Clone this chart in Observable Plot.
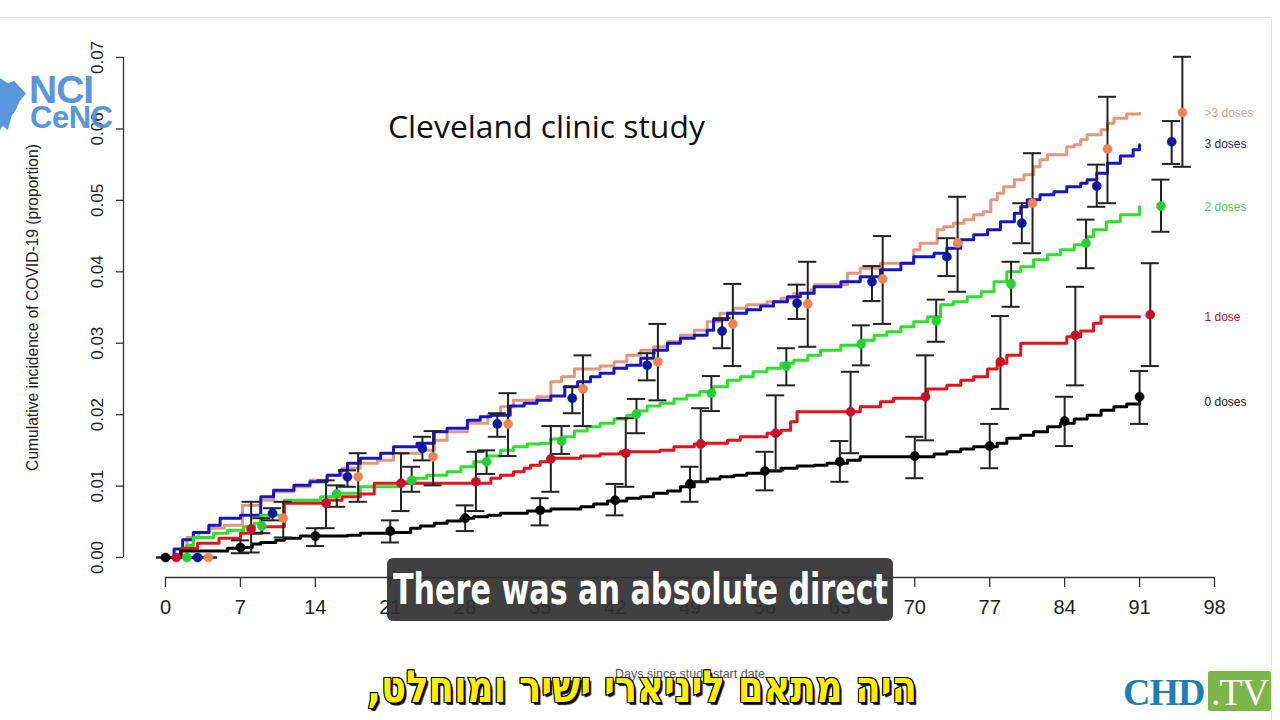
<!DOCTYPE html>
<html>
<head>
<meta charset="utf-8">
<script src="https://cdn.jsdelivr.net/npm/d3@7"></script>
<script src="https://cdn.jsdelivr.net/npm/@observablehq/plot@0.6"></script>
<style>
html, body { margin: 0; padding: 0; background: #fff; }
#wrap { position: relative; width: 1280px; height: 720px; overflow: hidden; background: #fff; font-family: "Liberation Sans", Arial, sans-serif; }
#chart { position: absolute; left: 0; top: 0; }
#frameline { position: absolute; left: 0; top: 17px; width: 1272px; height: 720px; border-top: 1px solid #e6e6e6; border-right: 1px solid #e6e6e6; box-sizing: border-box; pointer-events: none; }
#title { position: absolute; left: 388px; top: 104px; font-family: "Open Sans", sans-serif; font-size: 28px; color: #111; white-space: nowrap; }
#sub { position: absolute; left: 387px; top: 558px; width: 506px; height: 63px; background: rgba(48,48,48,0.92); border-radius: 6px; }
#subtext { position: absolute; left: 393px; top: 562px; font-family: "Liberation Sans Narrow", "DejaVu Sans Condensed", "Liberation Sans", sans-serif; font-weight: bold; font-size: 42px; color: #fff; white-space: nowrap; transform-origin: 0 0; line-height: 56px; }
#heb { position: absolute; left: 367px; top: 660px; font-family: "DejaVu Sans", "Liberation Sans", sans-serif; font-weight: bold; font-size: 44px; color: #ffee00; white-space: nowrap; transform-origin: 0 0; line-height: 54px;
  -webkit-text-stroke: 2px #000; paint-order: stroke fill; text-shadow: 2px 2px 0 #000, -1px -1px 0 #000, 1px -1px 0 #000, -1px 1px 0 #000, 3px 3px 1px #222; }
#logo { position: absolute; left: 0; top: 72px; width: 160px; height: 62px; opacity: 0.92; }
#logo .shape { position: absolute; left: 0; top: 6px; width: 26px; height: 52px; background: #4a8fdc;
  clip-path: polygon(0% 0%, 30% 10%, 55% 6%, 100% 30%, 75% 45%, 60% 62%, 45% 72%, 30% 100%, 10% 92%, 0% 100%); }
#logo .nci { position: absolute; left: 29px; top: -4px; font-family: "Liberation Sans", sans-serif; font-weight: bold; font-size: 39px; color: #4a8fdc; letter-spacing: -1px; }
#logo .cenc { position: absolute; left: 30px; top: 28px; font-family: "Liberation Sans", sans-serif; font-weight: bold; font-size: 31px; color: #4a8fdc; letter-spacing: -0.5px; }
#chd { position: absolute; left: 1123px; top: 670px; font-family: "Liberation Serif", "DejaVu Serif", serif; font-weight: bold; font-size: 38px; color: #1f7fb4; letter-spacing: -1px; line-height: 44px; }
#tv { position: absolute; left: 1208px; top: 671px; width: 63px; height: 40px; background: #7ab648; border-radius: 2px; color: #fff; font-family: "Liberation Serif", "DejaVu Serif", serif; font-size: 38px; line-height: 42px; text-align: center; letter-spacing: -1px; }
</style>
</head>
<body>
<div id="wrap">
  <div id="chart"></div>
  <div id="frameline"></div>
  <div id="title">Cleveland clinic study</div>
  <div id="logo"><div class="shape"></div><div class="nci">NCI</div><div class="cenc">CeNC</div></div>
  <div id="sub"></div>
  <div id="subtext">There was an absolute direct</div>
  <div id="heb" dir="rtl">היה מתאם ליניארי ישיר ומוחלט,</div>
  <div id="chd">CHD</div>
  <div id="tv">.TV</div>
</div>
<script>
// ---------- data ----------
const dayTicks = [0, 7, 14, 21, 28, 35, 42, 49, 56, 63, 70, 77, 84, 91, 98];
const yTicks = [0, 0.01, 0.02, 0.03, 0.04, 0.05, 0.06, 0.07];
const weekDays = [0, 7, 14, 21, 28, 35, 42, 49, 56, 63, 70, 77, 84, 91];
const groups = ["0 doses", "1 dose", "2 doses", "3 doses", ">3 doses"];
const yTitle = "Cumulative incidence of COVID-19 (proportion)";
const xTitle = "Days since study start date";

// weekly point estimates with 95% CI (proportion)
const mean0 = [0, 0.0014, 0.0030, 0.0037, 0.0055, 0.0066, 0.0080, 0.0103, 0.0121, 0.0134, 0.0142, 0.0156, 0.0191, 0.0225];
const lo0   = [0, 0.0006, 0.0016, 0.0021, 0.0037, 0.0045, 0.0059, 0.0078, 0.0094, 0.0106, 0.0111, 0.0125, 0.0156, 0.0187];
const hi0   = [0, 0.0024, 0.0041, 0.0052, 0.0073, 0.0083, 0.0103, 0.0127, 0.0148, 0.0163, 0.0169, 0.0187, 0.0225, 0.0261];

const mean1 = [0, 0.0040, 0.0076, 0.0104, 0.0106, 0.0138, 0.0146, 0.0159, 0.0174, 0.0204, 0.0225, 0.0274, 0.0311, 0.0340];
const lo1   = [0, 0.0007, 0.0041, 0.0065, 0.0065, 0.0092, 0.0099, 0.0106, 0.0122, 0.0146, 0.0164, 0.0208, 0.0241, 0.0268];
const hi1   = [0, 0.0078, 0.0108, 0.0146, 0.0148, 0.0184, 0.0195, 0.0209, 0.0227, 0.0260, 0.0283, 0.0338, 0.0379, 0.0412];

const mean2 = [0, 0.0044, 0.0089, 0.0108, 0.0134, 0.0163, 0.0201, 0.0230, 0.0268, 0.0299, 0.0331, 0.0383, 0.0440, 0.0492];
const lo2   = [0, 0.0034, 0.0071, 0.0092, 0.0117, 0.0145, 0.0174, 0.0205, 0.0241, 0.0269, 0.0302, 0.0351, 0.0405, 0.0456];
const hi2   = [0, 0.0055, 0.0101, 0.0127, 0.0150, 0.0184, 0.0222, 0.0254, 0.0293, 0.0325, 0.0361, 0.0414, 0.0473, 0.0529];

const mean3 = [0, 0.0062, 0.0113, 0.0153, 0.0187, 0.0223, 0.0269, 0.0317, 0.0356, 0.0386, 0.0421, 0.0468, 0.0520, 0.0582];
const lo3   = [0, 0.0052, 0.0099, 0.0136, 0.0169, 0.0202, 0.0248, 0.0293, 0.0334, 0.0359, 0.0394, 0.0440, 0.0491, 0.0551];
const hi3   = [0, 0.0069, 0.0122, 0.0169, 0.0202, 0.0239, 0.0286, 0.0335, 0.0382, 0.0408, 0.0447, 0.0496, 0.0550, 0.0611];

const mean4 = [0, 0.0055, 0.0113, 0.0141, 0.0187, 0.0236, 0.0274, 0.0327, 0.0355, 0.0390, 0.0440, 0.0496, 0.0572, 0.0623];
const lo4   = [0, 0.0028, 0.0078, 0.0101, 0.0142, 0.0184, 0.0220, 0.0268, 0.0295, 0.0327, 0.0372, 0.0426, 0.0496, 0.0547];
const hi4   = [0, 0.0078, 0.0146, 0.0177, 0.0230, 0.0283, 0.0327, 0.0383, 0.0414, 0.0450, 0.0505, 0.0566, 0.0645, 0.0701];

// cumulative incidence step curves: [day, proportion]
const steps0 = [[0,0],[1.4,0.0009],[5.8,0.0013],[7.0,0.0014],[8.1,0.0019],[8.9,0.0021],[10.3,0.0024],[11.1,0.0027],[12.6,0.0030],[17.0,0.0031],[18.2,0.0034],[21.3,0.0035],[22.9,0.0041],[23.8,0.0044],[25.1,0.0048],[26.3,0.0051],[27.6,0.0055],[28.8,0.0057],[30.1,0.0059],[31.3,0.0062],[33.8,0.0065],[36.0,0.0068],[38.8,0.0071],[40.0,0.0075],[41.3,0.0079],[43.1,0.0083],[44.4,0.0085],[45.6,0.0090],[46.9,0.0093],[48.1,0.0099],[49.4,0.0106],[50.6,0.0110],[51.8,0.0113],[53.1,0.0115],[54.3,0.0118],[55.9,0.0121],[57.5,0.0125],[59.0,0.0128],[60.6,0.0129],[61.8,0.0132],[63.7,0.0136],[64.9,0.0141],[71.8,0.0145],[73.0,0.0148],[74.3,0.0152],[75.5,0.0155],[77.7,0.0160],[78.6,0.0167],[79.9,0.0171],[81.1,0.0176],[82.4,0.0183],[83.6,0.0188],[84.9,0.0194],[86.1,0.0199],[87.4,0.0206],[88.6,0.0211],[89.8,0.0215],[91,0.0218]];
const steps1 = [[0,0],[1.0,0],[1.5,0.0013],[3,0.0020],[5,0.0027],[7,0.0034],[9,0.0043],[11.1,0.0076],[14.8,0.0080],[16.5,0.0085],[18.2,0.0089],[19.5,0.0104],[30.4,0.0111],[31.3,0.0115],[32.5,0.0120],[33.5,0.0125],[34.1,0.0129],[35.0,0.0134],[36.0,0.0139],[38.8,0.0142],[40.6,0.0145],[42.5,0.0148],[46.2,0.0150],[47.5,0.0155],[49.4,0.0159],[50.5,0.0160],[52.5,0.0164],[53.7,0.0169],[56.2,0.0174],[57.5,0.0178],[58.4,0.0190],[59.0,0.0204],[64.9,0.0211],[66.8,0.0218],[68.0,0.0223],[71.2,0.0236],[73.0,0.0241],[74.3,0.0248],[75.5,0.0253],[76.8,0.0264],[77.7,0.0272],[78.6,0.0283],[79.9,0.0300],[84.2,0.0309],[85.5,0.0317],[86.7,0.0328],[87.4,0.0337],[91,0.0337]];
const steps2 = [[0,0],[2.0,0.0017],[2.6,0.0028],[4.5,0.0034],[5.8,0.0038],[7.3,0.0043],[8.3,0.0048],[8.9,0.0059],[11.1,0.0080],[14.5,0.0085],[15.7,0.0090],[18.2,0.0099],[21.9,0.0106],[23.2,0.0111],[24.4,0.0115],[26.3,0.0120],[27.6,0.0127],[28.8,0.0134],[30.1,0.0142],[31.3,0.0150],[32.5,0.0155],[33.8,0.0159],[35.0,0.0160],[36.0,0.0166],[37.3,0.0169],[38.2,0.0177],[39.4,0.0183],[40.6,0.0188],[41.9,0.0194],[43.1,0.0199],[44.1,0.0205],[45.0,0.0212],[46.2,0.0216],[47.5,0.0222],[48.7,0.0227],[49.9,0.0232],[51.2,0.0239],[52.5,0.0248],[53.7,0.0253],[54.9,0.0260],[56.2,0.0265],[57.5,0.0272],[58.7,0.0276],[60.0,0.0283],[61.2,0.0290],[63.1,0.0297],[64.9,0.0304],[66.2,0.0311],[67.4,0.0316],[68.7,0.0323],[69.9,0.0330],[71.2,0.0337],[72.4,0.0354],[73.6,0.0358],[74.9,0.0365],[76.2,0.0372],[77.4,0.0386],[78.6,0.0400],[79.9,0.0407],[81.1,0.0417],[82.4,0.0424],[83.6,0.0431],[84.9,0.0438],[86.1,0.0449],[86.7,0.0459],[87.9,0.0470],[89.2,0.0480],[91,0.0491]];
const steps3 = [[0,0],[0.8,0.0012],[1.6,0.0025],[2.6,0.0035],[4.05,0.0045],[5.1,0.0055],[7.0,0.0059],[8.9,0.0085],[10.1,0.0094],[12.0,0.0101],[13.5,0.0106],[15.1,0.0115],[16.3,0.0122],[17.0,0.0132],[18.2,0.0139],[20.1,0.0146],[21.3,0.0155],[23.5,0.0160],[25.1,0.0176],[26.3,0.0181],[28.2,0.0192],[29.4,0.0197],[30.4,0.0199],[32.2,0.0212],[33.5,0.0216],[34.7,0.0220],[36.0,0.0226],[37.3,0.0239],[38.5,0.0246],[39.7,0.0253],[40.6,0.0258],[41.9,0.0265],[43.1,0.0269],[44.4,0.0279],[45.6,0.0290],[46.9,0.0300],[48.1,0.0307],[49.4,0.0311],[50.6,0.0318],[51.2,0.0333],[52.5,0.0342],[54.3,0.0347],[55.6,0.0352],[56.8,0.0358],[58.1,0.0365],[59.3,0.0370],[60.6,0.0379],[63.1,0.0386],[64.9,0.0393],[66.8,0.0403],[68.7,0.0412],[69.9,0.0421],[71.8,0.0426],[73.0,0.0433],[74.3,0.0445],[75.5,0.0452],[76.8,0.0459],[78.0,0.0470],[79.3,0.0482],[79.9,0.0491],[80.5,0.0501],[81.7,0.0508],[83.0,0.0512],[84.2,0.0519],[85.5,0.0524],[86.1,0.0529],[87.0,0.0538],[88.0,0.0552],[89.2,0.0562],[90.4,0.0571],[91,0.0578]];
const steps4 = [[0,0],[1.5,0.0013],[2.0,0.0028],[3.1,0.0035],[4.1,0.0041],[5.5,0.0045],[7.2,0.0073],[8.9,0.0080],[10.1,0.0092],[12.0,0.0099],[13.5,0.0108],[15.1,0.0115],[16.5,0.0125],[18.2,0.0132],[19.8,0.0136],[21.3,0.0146],[23.8,0.0150],[25.1,0.0164],[26.3,0.0176],[28.2,0.0188],[30.1,0.0199],[31.3,0.0211],[32.5,0.0220],[34.7,0.0225],[36.0,0.0246],[37.0,0.0253],[38.2,0.0264],[40.6,0.0268],[41.9,0.0274],[43.1,0.0283],[44.4,0.0290],[45.6,0.0295],[46.9,0.0302],[48.1,0.0311],[49.4,0.0318],[50.6,0.0330],[51.8,0.0342],[53.1,0.0349],[54.3,0.0354],[56.2,0.0358],[57.5,0.0363],[58.7,0.0370],[60.3,0.0375],[60.6,0.0382],[63.7,0.0398],[64.9,0.0405],[66.8,0.0412],[69.9,0.0431],[70.5,0.0440],[72.1,0.0459],[72.7,0.0463],[73.6,0.0468],[74.6,0.0473],[75.5,0.0480],[76.4,0.0484],[77.1,0.0501],[77.7,0.0510],[78.3,0.0519],[79.3,0.0529],[80.2,0.0536],[81.1,0.0547],[81.7,0.0557],[82.4,0.0564],[84.2,0.0575],[84.9,0.0578],[85.5,0.0585],[86.1,0.0592],[87.4,0.0599],[88.0,0.0608],[88.6,0.0615],[89.8,0.0621],[91,0.0622]];

// ---------- styling ----------
const lineColors  = ["#000000", "#e3121c", "#2de02d", "#1616c8", "#e3977f"];
const pointColors = ["#000000", "#c8102a", "#27cf36", "#0c169e", "#ee8358"];
const labelColors = ["#111111", "#b5122e", "#52cf52", "#26267c", "#d6a596"];
const pointOffset = [0, 1, 2, 3, 4]; // horizontal dodge of point estimates (days)
const axisColor = "#333";
const barColor = "#222";

const means = [mean0, mean1, mean2, mean3, mean4];
const los = [lo0, lo1, lo2, lo3, lo4];
const his = [hi0, hi1, hi2, hi3, hi4];
const steps = [steps0, steps1, steps2, steps3, steps4];

const pts = groups.map((g, i) => weekDays.map((d, j) => ({group: g, day: d + pointOffset[i], mean: means[i][j], lo: los[i][j], hi: his[i][j]})));
const endLabels = groups.map((g, i) => ({group: g, y: steps[i][steps[i].length - 1][1], color: labelColors[i]}));

const marks = [];
// axes (R base-graphics style, detached from the plotting region)
marks.push(Plot.ruleX([dayTicks[0]], {y1: yTicks[0], y2: yTicks[yTicks.length - 1], dx: -42, stroke: axisColor, strokeWidth: 1.3}));
marks.push(Plot.axisY(yTicks, {anchor: "left", dx: -42, tickSize: 7, tickPadding: 14, tickRotate: -90, tickFormat: d3.format(".2f"), fontSize: 17, stroke: axisColor, fill: "#222", strokeWidth: 1.3, label: null}));
marks.push(Plot.ruleY([yTicks[0]], {x1: dayTicks[0], x2: dayTicks[dayTicks.length - 1], dy: 20, stroke: axisColor, strokeWidth: 1.3}));
marks.push(Plot.axisX(dayTicks, {anchor: "bottom", dy: 20, tickSize: 10, tickPadding: 12, fontSize: 20, stroke: axisColor, fill: "#222", strokeWidth: 1.3, label: null}));
marks.push(Plot.text([yTitle], {frameAnchor: "left", dx: -133, rotate: -90, textAnchor: "middle", lineAnchor: "middle", fontSize: 15.6, fill: "#222"}));
marks.push(Plot.text([xTitle], {frameAnchor: "bottom", dy: 116, textAnchor: "middle", lineAnchor: "middle", fontSize: 12.5, fill: "#555"}));

// step curves (drawn >3 first so 0 doses ends on top)
for (const i of [4, 3, 2, 1, 0]) {
  marks.push(Plot.line(steps[i], {x: d => d[0], y: d => d[1], curve: "step-after", stroke: lineColors[i], strokeWidth: 3}));
}
// error bars
for (const i of [4, 3, 2, 1, 0]) {
  marks.push(Plot.ruleX(pts[i], {x: "day", y1: "lo", y2: "hi", stroke: barColor, strokeWidth: 2}));
  marks.push(Plot.ruleY(pts[i], {y: "lo", x1: "day", x2: "day", insetLeft: -9, insetRight: -9, stroke: barColor, strokeWidth: 2}));
  marks.push(Plot.ruleY(pts[i], {y: "hi", x1: "day", x2: "day", insetLeft: -9, insetRight: -9, stroke: barColor, strokeWidth: 2}));
}
// point estimates
for (const i of [4, 3, 2, 1, 0]) {
  marks.push(Plot.dot(pts[i], {x: "day", y: "mean", r: 4.6, fill: pointColors[i], stroke: pointColors[i], strokeWidth: 0.5}));
}
// group labels at the right
marks.push(Plot.text(endLabels, {frameAnchor: "right", y: "y", dx: -10, text: "group", fill: d => d.color, textAnchor: "start", fontSize: 12}));

const chart = Plot.plot({
  width: 1280,
  height: 720,
  marginLeft: 165, marginRight: 66, marginTop: 57, marginBottom: 163,
  x: {domain: [0, 98], range: [165, 1214], axis: null},
  y: {domain: [0, 0.07], range: [557, 57], axis: null},
  color: {type: "identity"},
  style: {fontFamily: "'Liberation Sans', Arial, sans-serif", background: "transparent", overflow: "visible"},
  marks
});
document.getElementById("chart").appendChild(chart);

// fit overlay texts to the widths seen in the frame
function fitX(id, w) {
  const el = document.getElementById(id);
  const r = el.getBoundingClientRect();
  if (r.width > 0) el.style.transform = `scaleX(${w / r.width})`;
}
function fitFont(id, w) {
  const el = document.getElementById(id);
  const r = el.getBoundingClientRect();
  const fs = parseFloat(getComputedStyle(el).fontSize);
  if (r.width > 0) el.style.fontSize = (fs * w / r.width) + "px";
}
fitFont("title", 317);
fitX("subtext", 495);
fitX("heb", 550);
</script>
</body>
</html>
